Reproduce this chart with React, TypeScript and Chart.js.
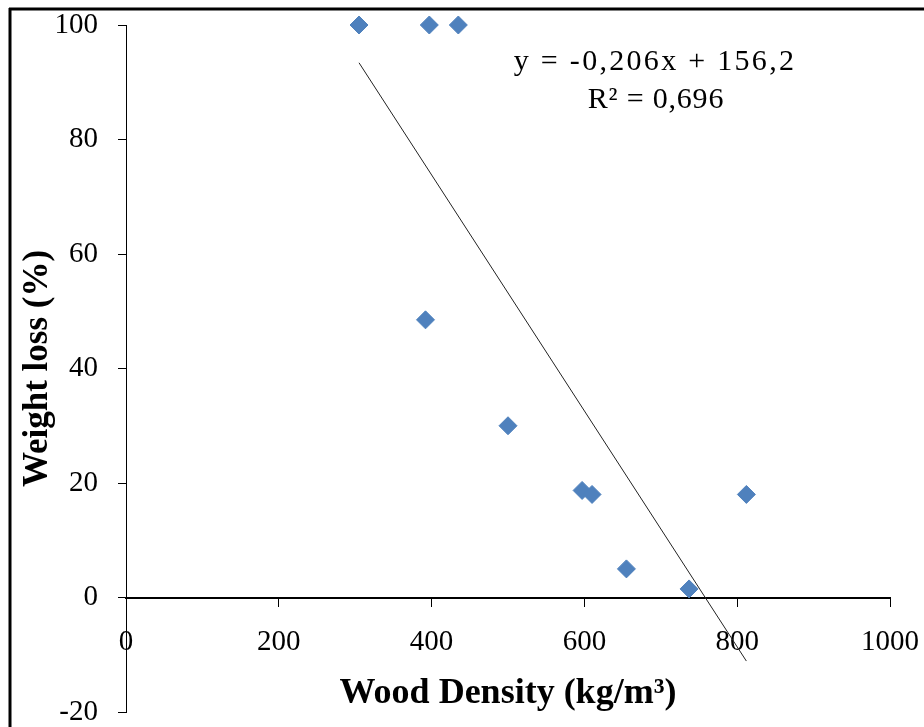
import React, { useEffect, useRef } from "react";
import { Chart, registerables } from "chart.js";

Chart.register(...registerables);

// Data
const densityValues: number[] = [305, 397, 435, 392, 500, 597, 610, 655, 737, 812];
const weightLossValues: number[] = [100, 100, 100, 48.5, 30, 18.7, 18, 5, 1.5, 18];

// Trend line endpoints (linear fit shown on chart)
const trendX: number[] = [305, 812];
const trendY: number[] = [93.4, -11.1];

const xTicks: number[] = [0, 200, 400, 600, 800, 1000];
const yTicks: number[] = [-20, 0, 20, 40, 60, 80, 100];

const equationText = "y = -0,206x + 156,2";
const r2Text = "R² = 0,696";
const xTitle = "Wood Density (kg/m³)";
const yTitle = "Weight loss (%)";

const SERIF = "'Liberation Serif', 'Times New Roman', serif";

export default function App() {
  const canvasRef = useRef<HTMLCanvasElement | null>(null);

  useEffect(() => {
    const canvas = canvasRef.current;
    if (!canvas) return;

    const framePlugin = {
      id: "framePlugin",
      afterDraw(chart: any) {
        const ctx = chart.ctx;
        ctx.save();
        ctx.strokeStyle = "#000";
        ctx.lineWidth = 3;
        ctx.beginPath();
        ctx.moveTo(9, 9);
        ctx.lineTo(924, 9);
        ctx.moveTo(10, 8);
        ctx.lineTo(10, 727);
        ctx.stroke();
        ctx.restore();
      },
    };

    const equationPlugin = {
      id: "equationPlugin",
      afterDatasetsDraw(chart: any) {
        const ctx = chart.ctx;
        ctx.save();
        ctx.fillStyle = "#000";
        ctx.font = `30px ${SERIF}`;
        ctx.textAlign = "center";
        ctx.textBaseline = "middle";
        (ctx as any).letterSpacing = "2.3px";
        ctx.fillText(equationText, 655, 62);
        (ctx as any).letterSpacing = "0.8px";
        ctx.fillText(r2Text, 656, 100);
        (ctx as any).letterSpacing = "0px";
        ctx.restore();
      },
    };

    const chart = new Chart(canvas, {
      type: "scatter",
      data: {
        datasets: [
          {
            label: "Weight loss",
            data: densityValues.map((x, i) => ({ x, y: weightLossValues[i] })),
            pointStyle: "rectRot",
            pointRadius: 9,
            pointBackgroundColor: "#4F81BD",
            pointBorderColor: "#4F81BD",
            pointBorderWidth: 1,
            showLine: false,
            clip: false as any,
            order: 1,
          },
          {
            label: "Trend",
            type: "line",
            data: trendX.map((x, i) => ({ x, y: trendY[i] })),
            borderColor: "#222",
            borderWidth: 1,
            pointRadius: 0,
            fill: false,
            clip: false,
            order: 2,
          } as any,
        ],
      },
      options: {
        animation: false,
        responsive: false,
        maintainAspectRatio: false,
        layout: { padding: { top: 25, right: 34, bottom: 15, left: 0 } },
        plugins: {
          legend: { display: false },
          tooltip: { enabled: false },
        },
        scales: {
          x: {
            type: "linear",
            position: { y: 0 } as any,
            min: 0,
            max: 1000,
            afterBuildTicks: (scale: any) => {
              scale.ticks = xTicks.map((v) => ({ value: v }));
            },
            afterFit: (scale: any) => {
              scale.paddingLeft = 0;
              scale.paddingRight = 0;
              scale.height = 118;
            },
            ticks: {
              color: "#000",
              font: { family: SERIF, size: 29 },
              padding: 19,
              maxRotation: 0,
              callback: (v: any) => String(v),
            },
            grid: {
              drawOnChartArea: false,
              drawTicks: true,
              tickLength: 8,
              color: "#000",
            },
            border: { display: true, color: "#000", width: 2 },
            title: {
              display: true,
              text: xTitle,
              color: "#000",
              font: { family: SERIF, size: 36, weight: "bold" },
              padding: 0,
            },
          },
          y: {
            type: "linear",
            min: -20,
            max: 100,
            afterBuildTicks: (scale: any) => {
              scale.ticks = yTicks.map((v) => ({ value: v }));
            },
            afterFit: (scale: any) => {
              scale.width = 126;
              scale.paddingTop = 0;
              scale.paddingBottom = 0;
            },
            ticks: {
              color: "#000",
              font: { family: SERIF, size: 29 },
              padding: 20,
              callback: (v: any) => String(v),
            },
            grid: {
              drawOnChartArea: false,
              drawTicks: true,
              tickLength: 8,
              color: "#000",
            },
            border: { display: true, color: "#000", width: 1 },
            title: {
              display: true,
              text: yTitle,
              color: "#000",
              font: { family: SERIF, size: 35, weight: "bold" },
              padding: { top: 17, bottom: 0 },
            },
          },
        },
      },
      plugins: [framePlugin, equationPlugin],
    });

    return () => {
      chart.destroy();
    };
  }, []);

  return (
    <div
      style={{
        position: "fixed",
        left: 0,
        top: 0,
        width: 924,
        height: 727,
        background: "#fff",
      }}
    >
      <canvas ref={canvasRef} width={924} height={727} style={{ display: "block" }} />
    </div>
  );
}
